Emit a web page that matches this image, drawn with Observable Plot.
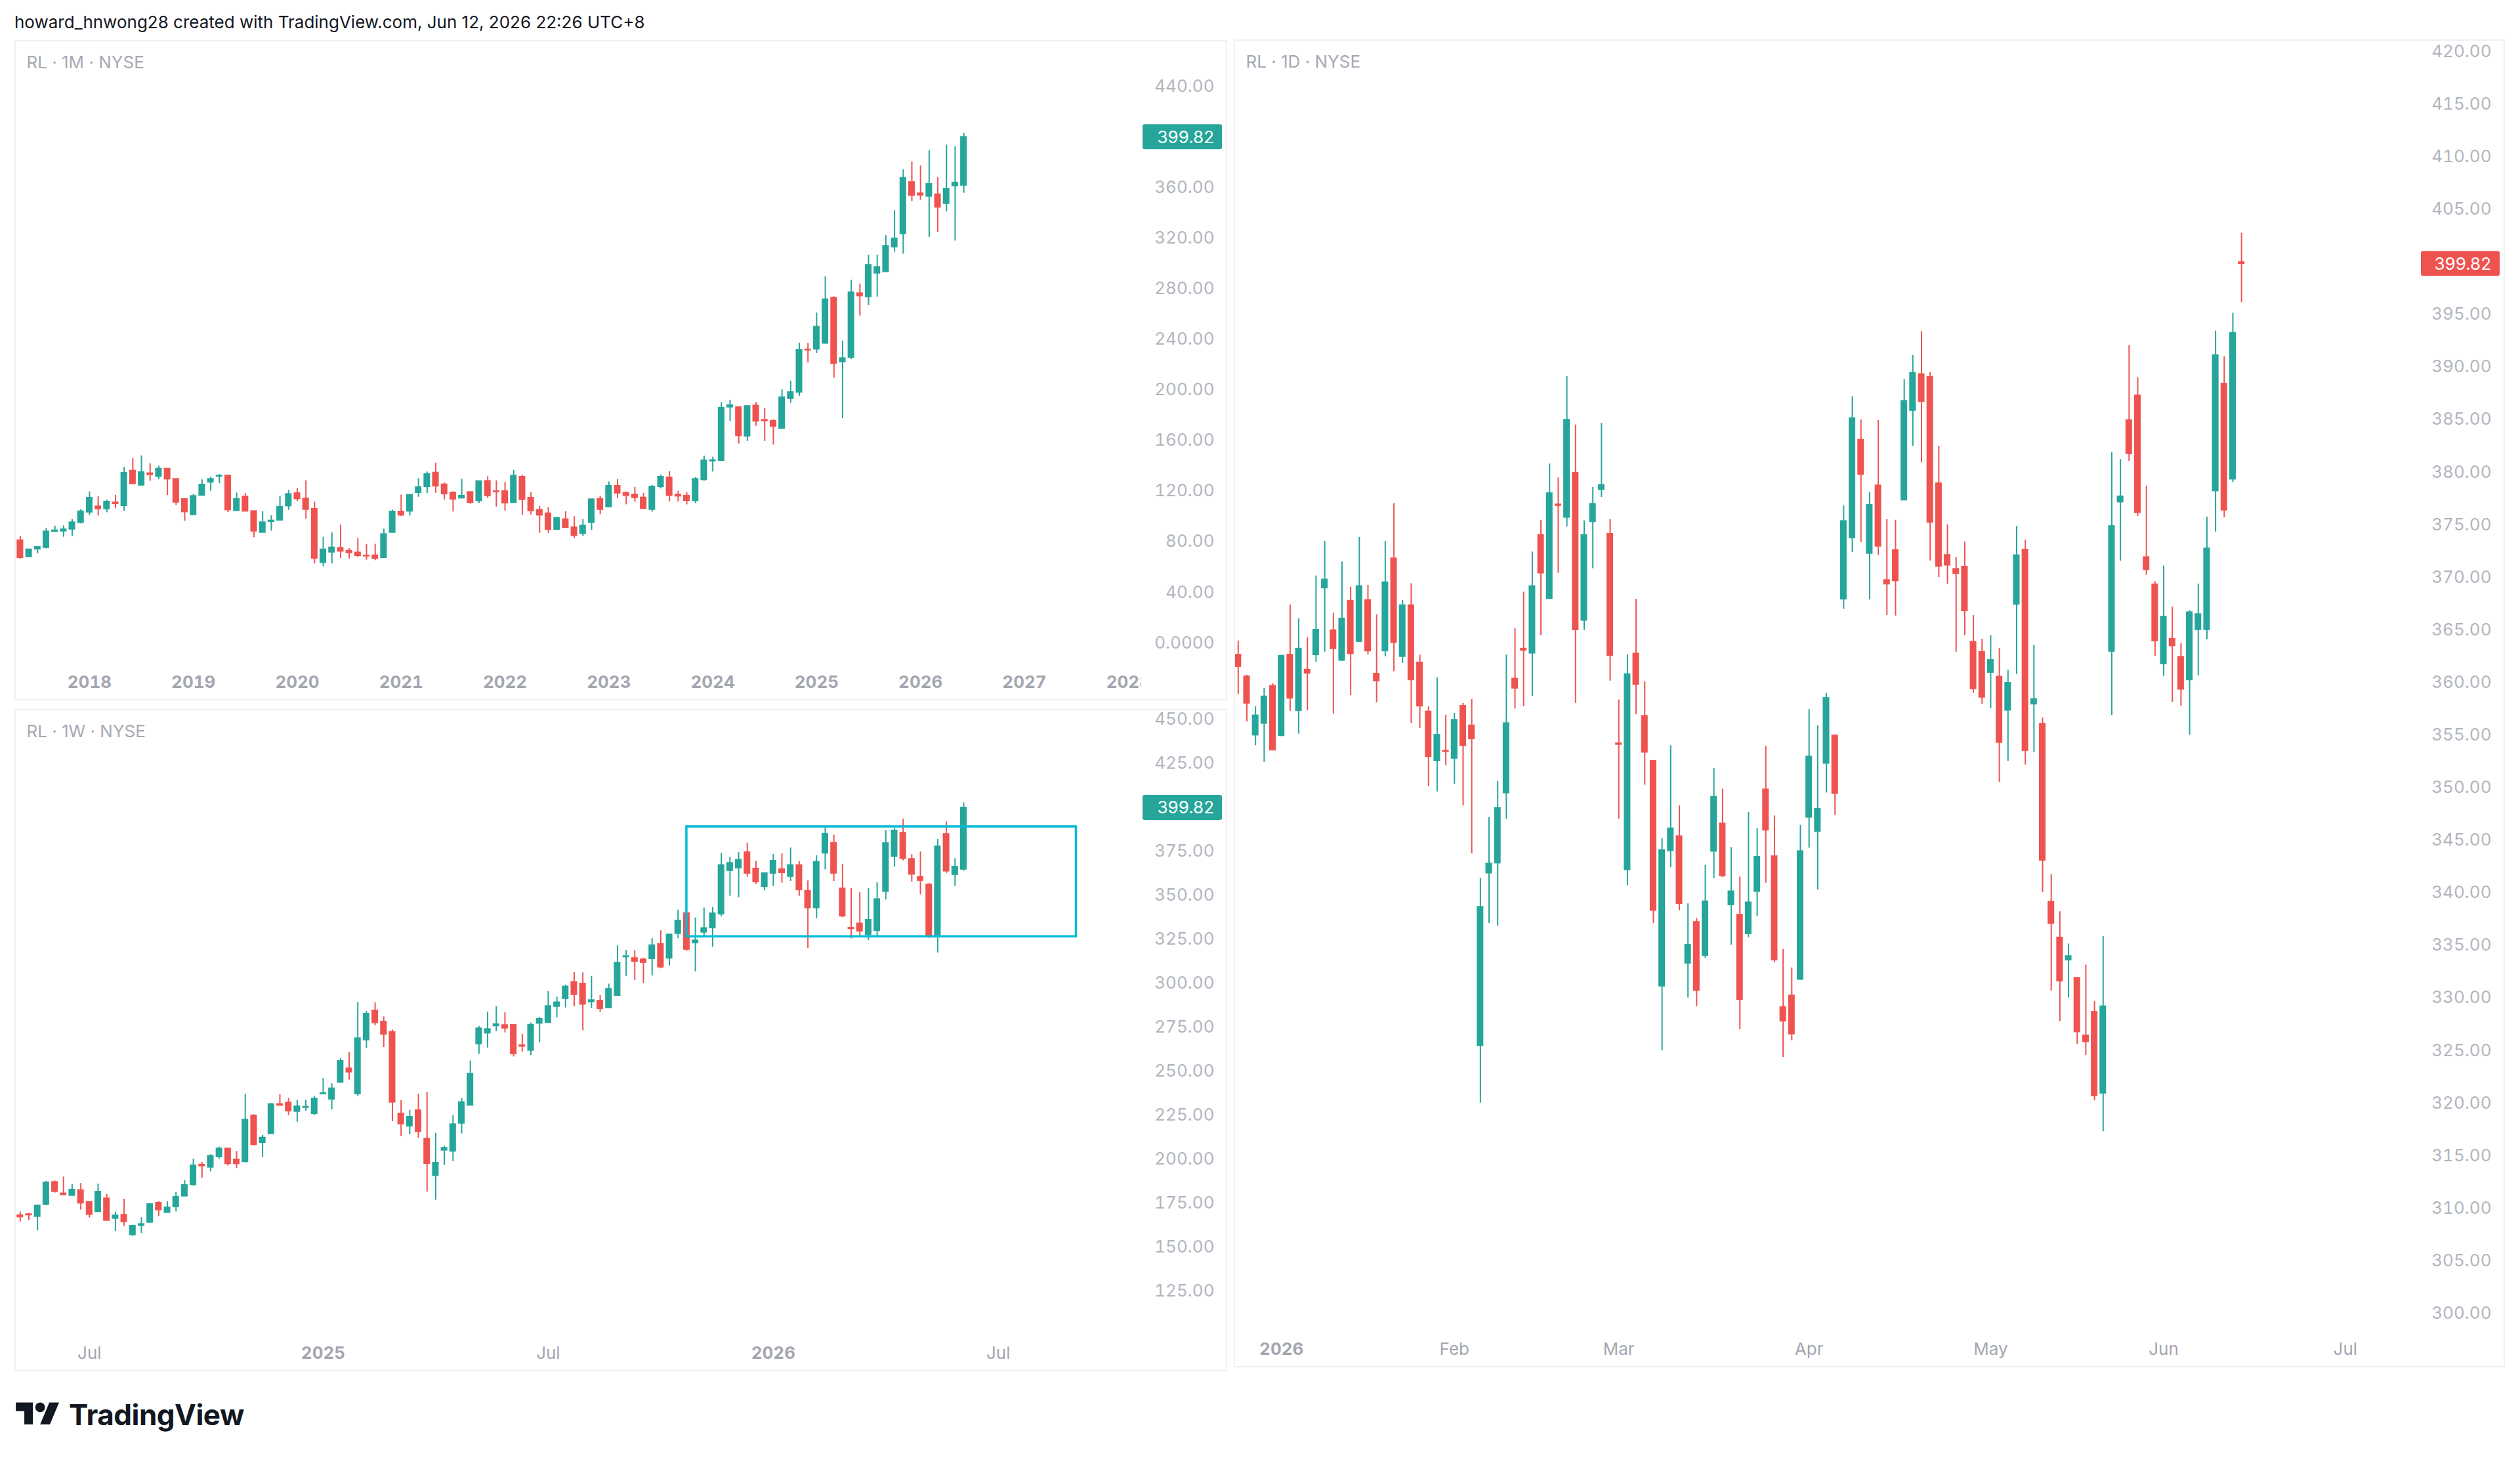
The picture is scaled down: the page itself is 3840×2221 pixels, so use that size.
<!DOCTYPE html>
<html><head><meta charset="utf-8">
<script src="https://cdn.jsdelivr.net/npm/d3@7"></script>
<script src="https://cdn.jsdelivr.net/npm/@observablehq/plot@0.6"></script>
<style>
html,body{margin:0;padding:0;background:#fff;}
body{width:3840px;height:2221px;position:relative;overflow:hidden;font-family:Inter,"Noto Sans",sans-serif;}
.panel{position:absolute;}
.border{position:absolute;border:2px solid #eef0f4;box-sizing:border-box;pointer-events:none;}
</style></head><body>
<div id="hdr" style="position:absolute;left:22px;top:19px;font-size:26px;line-height:30px;color:#131722;white-space:nowrap;">howard_hnwong28 created with TradingView.com, Jun 12, 2026 22:26 UTC+8</div>
<div id="pm" class="panel" style="left:22px;top:61px;width:1848px;height:1006px"></div>
<div class="border" style="left:22px;top:61px;width:1848px;height:1006px"></div>
<div id="pw" class="panel" style="left:22px;top:1080px;width:1848px;height:1009px"></div>
<div class="border" style="left:22px;top:1080px;width:1848px;height:1009px"></div>
<div id="pd" class="panel" style="left:1880px;top:60px;width:1937px;height:2023px"></div>
<div class="border" style="left:1880px;top:60px;width:1937px;height:2023px"></div>
<div id="logo" style="position:absolute;left:24px;top:2128px;height:54px;display:flex;align-items:center;color:#131722;">
<svg width="67" height="52" viewBox="0 0 36 28" style="display:block"><path d="M14 22H7V11H0V4h14v18zM28 22h-8l7.5-18h8L28 22z" fill="#131722"/><circle cx="20" cy="8" r="4" fill="#131722"/></svg>
<span style="font-size:44px;font-weight:700;margin-left:14px;letter-spacing:-0.5px;">TradingView</span>
</div>
<script>
const UP = "#26a69a", DOWN = "#ef5350";

// ---------- Monthly (May 2017 .. Jun 2026) ----------
const monthlyOpen = [81.02,68.05,74.11,75.32,88.12,88.29,89.85,95.04,103.34,107.84,105.93,110.95,108.36,136.03,124.62,133.96,131.53,137.59,129.46,113.54,101.26,116.66,127.04,131.71,132.05,104.55,115.62,104.03,87.25,95.9,96.94,108.18,118.22,114.06,105.76,63.38,71.68,74.97,72.72,71.34,68.92,69.09,67.36,87.25,103.68,104.03,118.73,123.4,134.48,125.13,118.73,114.41,119.08,112.33,127.9,119.77,119.77,110.95,131.19,114.58,105.07,102.3,89.67,97.63,91.23,86.39,95.04,113.72,107.49,123.92,118.56,117.18,114.76,105.41,123.4,130.67,117.18,116.14,112.33,128.94,143.64,144.16,186.37,186.2,163.41,187.46,176.21,175.47,169.54,193.07,198.08,231.81,232.18,236.81,272.76,221.98,225.69,276.28,273.5,292.22,293.33,312.98,323.35,364.12,355.23,353.0,354.49,347.26,361.16,361.72];
const monthlyHigh = [84.31,74.11,76.35,90.54,92.44,92.62,97.46,105.59,119.42,115.62,112.85,116.66,138.97,145.89,147.97,141.74,139.84,137.8,129.7,113.8,117.7,128.94,131.19,133.09,132.92,118.56,118.04,104.38,103.86,100.57,115.97,120.64,122.19,128.25,111.47,83.62,87.08,93.31,74.62,82.75,77.91,78.08,90.02,105.0,117.0,117.18,129.98,135.17,142.26,126.52,119.6,129.46,119.3,128.0,131.53,128.25,126.87,136.38,132.57,118.74,108.01,107.14,99.53,103.86,99.88,97.63,113.72,116.14,127.38,129.11,119.43,123.06,118.22,124.62,132.74,135.51,119.94,118.91,130.84,147.79,146.93,190.0,191.9,186.4,187.41,190.2,185.66,176.39,200.12,206.97,236.99,236.81,260.9,289.44,273.69,238.66,286.85,283.7,306.67,306.67,322.06,341.88,374.13,380.25,377.1,389.14,367.83,393.59,392.29,402.86];
const monthlyLow = [66.32,67.71,70.65,74.45,87.9,83.62,84.31,94.17,100.74,100.4,102.99,106.11,104.2,125.6,124.4,127.9,129.11,116.66,108.7,96.25,101.0,116.4,119.94,126.0,103.17,104.3,103.8,83.27,87.0,88.46,96.7,104.9,111.82,97.98,62.52,60.27,62.52,66.84,66.49,67.71,65.46,65.11,66.84,87.0,100.05,100.4,115.27,118.22,118.39,113.03,103.51,114.24,109.74,110.43,114.41,107.49,104.38,110.7,100.92,101.26,86.73,86.73,88.98,91.0,82.76,84.31,89.15,101.44,107.3,114.24,109.22,111.3,105.59,103.51,121.85,111.64,111.47,109.22,110.43,127.9,135.17,144.0,175.13,157.31,159.39,171.35,159.34,156.57,169.3,189.55,195.11,221.42,228.84,236.25,209.38,177.32,224.21,258.49,266.65,273.5,293.1,308.9,307.42,349.11,350.04,320.57,324.65,340.78,317.79,355.6];
const monthlyClose = [67.36,73.76,75.66,87.94,88.81,89.67,95.21,103.86,114.58,105.93,111.47,109.91,134.3,125.83,134.82,132.92,137.59,129.46,111.12,103.51,115.97,124.96,129.46,132.05,105.07,113.54,104.03,88.29,95.21,96.59,107.49,117.52,113.89,105.41,66.84,73.76,75.32,72.38,71.16,68.92,68.57,66.67,85.87,103.68,100.92,116.83,123.06,133.26,123.92,117.7,113.54,116.14,110.95,127.73,116.14,119.43,110.61,132.05,113.2,104.38,100.92,89.67,98.49,91.23,84.83,92.61,113.37,105.41,123.92,118.39,116.49,114.76,106.11,123.4,131.19,116.49,115.97,112.51,129.46,144.16,144.33,185.68,187.75,163.71,187.1,175.2,175.47,171.21,194.0,198.08,231.44,231.44,249.79,271.47,220.87,224.95,277.02,274.24,298.7,297.04,313.72,319.65,367.46,353.75,353.93,362.64,344.3,358.94,363.75,399.82];
const monthlyTickPos = [8,20,32,44,56,68,80,92,104,116,128];
const monthlyTickText = ["2018","2019","2020","2021","2022","2023","2024","2025","2026","2027","2028"];
const monthlyTickBold = [true,true,true,true,true,true,true,true,true,true,true];
const monthlyPriceTicks = [0,40,80,120,160,200,240,280,320,360,440];

// ---------- Weekly (week of May 6 2024 .. week of Jun 8 2026) ----------
const weeklyOpen = [168.0,168.62,167.38,174.22,186.91,180.44,179.32,182.31,175.59,170.12,177.58,166.26,168.25,156.93,162.28,164.02,175.09,169.62,172.85,178.95,185.42,196.74,195.37,201.35,205.95,199.73,198.48,224.74,209.43,214.41,231.21,232.08,227.1,229.34,225.86,237.05,234.07,243.65,251.49,237.05,267.79,284.46,278.11,272.26,225.86,218.77,227.72,211.55,190.65,205.08,204.46,220.38,230.58,265.55,271.64,275.75,276.14,276.29,264.71,261.82,277.21,277.66,286.81,291.23,300.67,299.76,289.4,290.01,286.05,293.05,314.99,314.24,313.48,313.93,322.31,314.24,328.25,339.83,322.92,329.01,331.45,339.38,364.06,365.58,374.42,365.13,354.92,362.54,364.82,360.71,367.11,352.48,342.88,373.96,379.75,353.85,331.45,333.89,327.64,329.93,352.18,372.14,385.54,370.61,360.4,356.14,326.42,384.78,361.77,364.82];
const weeklyHigh = [169.99,169.24,173.8,187.41,187.66,189.9,185.67,186.17,175.84,185.92,179.94,169.99,177.33,162.15,166.75,174.6,175.84,175.84,181.06,187.78,200.1,198.24,202.59,206.95,206.2,204.46,237.05,225.36,213.54,231.71,236.81,234.69,233.57,233.57,235.81,245.89,242.9,257.21,260.57,289.31,284.08,288.94,280.97,273.51,233.32,227.72,237.05,238.05,214.78,207.44,224.99,234.57,255.84,275.5,283.71,286.82,283.3,276.29,271.12,277.51,280.71,295.49,292.29,299.0,306.16,306.01,304.03,293.05,299.61,321.4,318.81,318.65,314.39,325.51,329.93,327.94,341.66,340.1,337.24,342.88,343.18,373.96,371.83,374.42,379.75,369.55,362.8,373.35,373.66,377.01,369.24,358.27,372.59,388.59,384.33,367.72,354.0,351.57,353.85,357.2,386.92,388.13,393.32,373.2,374.73,356.75,381.89,391.79,370.92,402.61];
const weeklyLow = [164.39,165.14,159.29,173.6,180.82,179.5,179.1,171.11,166.63,169.9,164.9,159.04,161.78,156.18,157.8,164.02,167.5,169.62,170.12,178.95,184.8,189.28,192.88,200.1,196.24,194.75,198.11,207.69,200.97,214.41,230.21,224.86,221.13,227.35,224.99,236.81,228.1,243.15,245.02,235.81,262.93,276.0,263.55,221.38,212.92,214.04,211.92,181.32,176.71,196.49,198.61,214.41,230.58,259.82,263.31,272.64,271.88,258.16,260.91,259.07,266.24,277.66,280.41,286.05,286.65,273.09,285.74,283.46,285.74,293.05,304.03,301.74,300.06,304.33,308.3,309.97,325.51,318.35,306.62,325.97,320.63,337.85,349.58,348.67,360.4,356.29,352.63,355.22,357.05,357.96,349.58,319.87,336.78,364.52,357.96,337.4,325.36,327.19,324.44,326.73,347.45,366.19,369.7,357.66,350.35,325.66,317.28,362.54,355.22,363.76];
const weeklyClose = [167.13,168.25,173.6,186.67,181.56,179.69,182.56,174.97,168.5,181.44,165.14,167.88,164.39,162.03,163.02,174.35,171.11,172.48,178.45,185.17,196.37,196.12,201.84,205.95,197.36,197.36,222.37,208.19,212.17,231.21,230.58,227.35,229.96,229.71,234.32,237.43,240.16,255.72,249.5,268.66,282.59,277.49,271.02,232.33,220.01,224.0,215.65,197.49,197.86,206.32,219.76,232.33,248.5,274.26,273.88,276.62,274.47,259.84,264.1,276.29,279.64,286.96,289.1,298.08,293.51,288.03,290.32,285.59,296.71,311.64,315.3,312.41,311.8,321.55,309.21,327.64,335.57,319.26,324.29,331.3,339.68,367.11,368.33,370.15,362.54,357.66,362.54,369.55,362.84,367.11,353.09,342.88,368.94,384.93,362.54,338.16,330.99,329.63,336.02,347.76,379.6,386.76,370.92,361.93,358.42,326.73,377.77,363.76,366.19,399.82];
const weeklyTickPos = [8,35,61,87,113];
const weeklyTickText = ["Jul","2025","Jul","2026","Jul"];
const weeklyTickBold = [false,true,false,true,false];
const weeklyPriceTicks = [125,150,175,200,225,250,275,300,325,350,375,425,450];
const weeklyBoxStart = [77], weeklyBoxEnd = [122], weeklyBoxLow = [326.5], weeklyBoxHigh = [389];

// ---------- Daily (Dec 24 2025 .. Jun 12 2026) ----------
const dailyOpen = [362.62,360.56,354.99,356.1,359.66,354.95,362.62,357.33,361.2,362.62,368.98,364.95,362.1,367.76,363.89,367.81,360.82,362.99,371.78,362.46,367.33,361.88,357.22,352.57,353.5,352.78,357.75,355.9,325.46,341.87,342.82,349.49,360.35,363.2,362.78,374.01,367.97,376.92,375.7,379.93,365.9,375.28,378.35,374.11,354.2,342.19,362.73,356.8,352.51,331.12,343.99,345.37,333.3,337.21,334.04,343.94,346.58,338.85,337.9,336.1,340.12,349.81,343.46,329.11,330.22,331.76,347.17,345.84,352.3,354.95,367.92,373.74,383.06,372.26,378.72,369.72,372.58,377.34,385.86,389.31,389.04,378.93,372.1,370.78,370.99,363.84,362.89,360.95,360.53,357.35,367.43,372.61,357.94,356.05,339.14,335.73,333.6,331.9,326.42,328.66,320.94,362.95,377.15,384.93,387.28,371.9,369.31,361.77,364.13,362.42,360.24,365.01,365.01,378.21,388.4,379.33,399.95];
const dailyHigh = [363.95,360.7,357.7,359.45,359.87,362.6,367.39,366.06,364.27,370.14,373.42,366.59,371.46,369.08,373.8,369.24,366.44,373.42,377.02,367.81,369.4,362.62,357.7,360.45,356.9,357.06,358.02,358.39,341.39,347.16,350.6,362.62,365.11,368.6,372.42,375.44,380.78,379.46,389.09,384.49,375.38,378.56,384.65,375.49,358.34,362.62,367.92,360.08,352.6,345.15,353.99,348.28,338.96,337.58,342.61,351.82,349.86,344.31,341.5,347.64,346.11,353.94,347.32,334.62,332.87,346.42,357.44,355.9,358.97,355.0,376.81,387.19,384.96,378.08,384.91,375.49,375.44,388.83,391.11,393.38,389.47,382.48,375.01,371.89,373.37,366.38,364.13,364.48,363.24,361.18,374.85,373.55,363.54,356.64,341.74,338.2,335.14,331.95,333.13,329.66,335.84,381.86,381.21,392.05,388.99,378.68,369.6,371.08,367.19,363.71,366.84,369.37,375.73,393.41,390.99,395.12,402.72];
const dailyLow = [358.86,356.27,354.0,352.4,353.5,354.84,357.28,355.1,357.33,361.94,362.9,357.0,362.0,358.76,363.8,362.62,358.07,362.46,361.04,361.83,356.11,355.64,350.13,349.6,352.1,350.34,348.28,343.72,320.01,337.1,336.84,347.0,357.49,357.7,358.7,364.48,367.9,370.4,374.8,358.02,364.95,370.83,377.6,360.14,347.0,340.7,356.96,350.24,337.1,324.98,342.4,338.32,330.01,329.17,333.77,341.34,341.45,335.04,326.99,335.73,337.74,340.92,333.35,324.35,325.94,331.7,344.25,340.28,349.5,347.38,366.97,372.36,373.32,367.86,372.1,366.38,366.33,377.3,382.48,380.89,371.57,369.98,369.35,362.89,364.48,359.0,357.94,357.53,350.52,352.52,360.77,352.17,353.34,340.03,330.66,327.77,330.01,325.59,324.53,320.23,317.29,356.88,371.55,381.04,375.79,370.2,362.48,360.59,358.12,357.76,354.99,360.65,364.07,374.32,375.67,379.03,396.12];
const dailyClose = [361.51,358.02,356.85,358.65,353.57,362.52,358.5,363.2,360.88,365.0,369.77,363.2,366.06,362.73,369.14,362.99,360.14,369.51,363.79,367.33,360.24,357.75,352.94,355.0,353.41,356.43,354.0,354.63,338.64,342.77,348.06,356.11,359.45,363.05,369.14,370.4,377.98,376.81,384.96,365.0,374.01,376.97,378.77,362.57,354.1,360.77,359.82,353.36,338.32,344.04,346.11,338.96,335.04,330.7,339.17,349.12,341.6,340.12,329.85,339.07,343.41,345.95,333.61,327.79,326.57,343.94,352.94,347.96,358.5,349.44,375.33,385.12,379.78,376.86,372.95,369.35,369.66,386.76,389.41,386.71,375.22,371.04,371.15,370.35,366.81,359.39,358.59,362.12,354.29,359.94,372.08,353.52,358.41,343.09,337.08,331.6,333.96,326.77,325.83,320.7,329.19,374.85,377.68,381.74,376.15,370.72,363.95,366.25,363.48,359.35,366.66,366.48,372.73,391.11,376.38,393.23,399.82];
const dailyTickPos = [5,25,44,66,87,107,128];
const dailyTickText = ["2026","Feb","Mar","Apr","May","Jun","Jul"];
const dailyTickBold = [true,false,false,false,false,false,false];
const dailyPriceTicks = [300,305,310,315,320,325,330,335,340,345,350,355,360,365,370,375,380,385,390,395,405,410,415,420];

const PRICE_COLOR = "#b2b5be", TIME_COLOR = "#a3a6af", LABEL_COLOR = "#a6a9b2";

function badgeMark(price, color, pad) {
  return (index, scales, values, dims) => {
    const y = scales.y(price);
    const g = d3.create("svg:g");
    const x0 = dims.width - dims.marginRight + 3;
    g.append("rect").attr("x", x0).attr("y", y - 19).attr("width", dims.marginRight - 11).attr("height", 38)
      .attr("rx", 3).attr("fill", color);
    g.append("text").attr("x", dims.width - dims.marginRight + pad).attr("y", y).attr("dy", "0.36em")
      .attr("text-anchor", "end").attr("fill", "#ffffff").attr("font-size", 26).text(price.toFixed(2));
    return g.node();
  };
}

function candlePanel(o) {
  const rows = o.open.map((v, j) => ({x: j, o: v, h: o.high[j], l: o.low[j], c: o.close[j]}));
  const col = d => d.c >= d.o ? UP : DOWN;
  const labelMap = new Map(o.tickPos.map((p, j) => [p, o.tickText[j]]));
  const boldTicks = o.tickPos.filter((p, j) => o.tickBold[j]);
  const normTicks = o.tickPos.filter((p, j) => !o.tickBold[j]);
  const last = rows[rows.length - 1];
  const marks = [
    Plot.ruleX(rows, {x: "x", y1: "l", y2: "h", stroke: col, strokeWidth: 2}),
    Plot.rect(rows, {x1: d => d.x - 0.38, x2: d => d.x + 0.38, y1: "o", y2: "c", fill: col, insetTop: -1, insetBottom: -1}),
    ...(o.extra || []),
    Plot.axisY(o.priceTicks, {anchor: "right", tickSize: 0, tickPadding: o.pad, textAnchor: "end", label: null,
      tickFormat: o.yFormat, fill: PRICE_COLOR, fontSize: 26}),
    Plot.text([o.label], {frameAnchor: "top-left", dx: 18, dy: 34, text: d => d, fill: LABEL_COLOR,
      fontSize: 26, textAnchor: "start", lineAnchor: "middle"}),
    badgeMark(last.c, last.c >= last.o ? UP : DOWN, o.pad)
  ];
  if (boldTicks.length) marks.push(Plot.axisX(boldTicks, {anchor: "bottom", tickSize: 0, tickPadding: 22, label: null,
      tickFormat: v => labelMap.get(v), fill: TIME_COLOR, fontWeight: "bold", fontSize: 26}));
  if (normTicks.length) marks.push(Plot.axisX(normTicks, {anchor: "bottom", tickSize: 0, tickPadding: 22, label: null,
      tickFormat: v => labelMap.get(v), fill: TIME_COLOR, fontWeight: "normal", fontSize: 26}));
  const svg = Plot.plot({
    width: o.width, height: o.height,
    marginTop: 0, marginLeft: 0, marginBottom: 60, marginRight: o.marginRight,
    x: {domain: o.xDomain, label: null},
    y: {domain: o.yDomain, label: null},
    style: {fontFamily: "Inter, 'Noto Sans', sans-serif", fontSize: "26px", background: "transparent", overflow: "visible"},
    marks
  });
  // clip time-axis labels to the chart pane (left of the price scale)
  const ns = "http://www.w3.org/2000/svg";
  const defs = document.createElementNS(ns, "defs");
  const cp = document.createElementNS(ns, "clipPath");
  cp.setAttribute("id", o.id + "-clip");
  const r = document.createElementNS(ns, "rect");
  r.setAttribute("x", 0); r.setAttribute("y", 0);
  r.setAttribute("width", o.width - o.marginRight); r.setAttribute("height", o.height);
  cp.appendChild(r); defs.appendChild(cp); svg.insertBefore(defs, svg.firstChild);
  svg.querySelectorAll('g[aria-label="x-axis tick label"]').forEach(g => g.setAttribute("clip-path", `url(#${o.id}-clip)`));
  svg.style.position = "absolute"; svg.style.left = "0px"; svg.style.top = "0px";
  document.getElementById(o.id).appendChild(svg);
}

candlePanel({
  id: "pm", width: 1848, height: 1006, marginRight: 132, pad: 112,
  open: monthlyOpen, high: monthlyHigh, low: monthlyLow, close: monthlyClose,
  xDomain: [-0.637, 129.46], yDomain: [-14.63, 476.3],
  priceTicks: monthlyPriceTicks, yFormat: d => d === 0 ? "0.0000" : d.toFixed(2),
  tickPos: monthlyTickPos, tickText: monthlyTickText, tickBold: monthlyTickBold,
  label: "RL · 1M · NYSE"
});

candlePanel({
  id: "pw", width: 1848, height: 1009, marginRight: 132, pad: 112,
  open: weeklyOpen, high: weeklyHigh, low: weeklyLow, close: weeklyClose,
  xDomain: [-0.629, 129.47], yDomain: [101.55, 455.79],
  priceTicks: weeklyPriceTicks, yFormat: d => d.toFixed(2),
  tickPos: weeklyTickPos, tickText: weeklyTickText, tickBold: weeklyTickBold,
  label: "RL · 1W · NYSE",
  extra: [Plot.rect(weeklyBoxStart.map((s, j) => ({s, e: weeklyBoxEnd[j], lo: weeklyBoxLow[j], hi: weeklyBoxHigh[j]})),
    {x1: "s", x2: "e", y1: "lo", y2: "hi", fill: "none", stroke: "#00bcd4", strokeWidth: 3.5})]
});

candlePanel({
  id: "pd", width: 1937, height: 2023, marginRight: 131, pad: 110,
  open: dailyOpen, high: dailyHigh, low: dailyLow, close: dailyClose,
  xDomain: [-0.478, 136.55], yDomain: [298.58, 421.117],
  priceTicks: dailyPriceTicks, yFormat: d => d.toFixed(2),
  tickPos: dailyTickPos, tickText: dailyTickText, tickBold: dailyTickBold,
  label: "RL · 1D · NYSE"
});
</script>
</body></html>
